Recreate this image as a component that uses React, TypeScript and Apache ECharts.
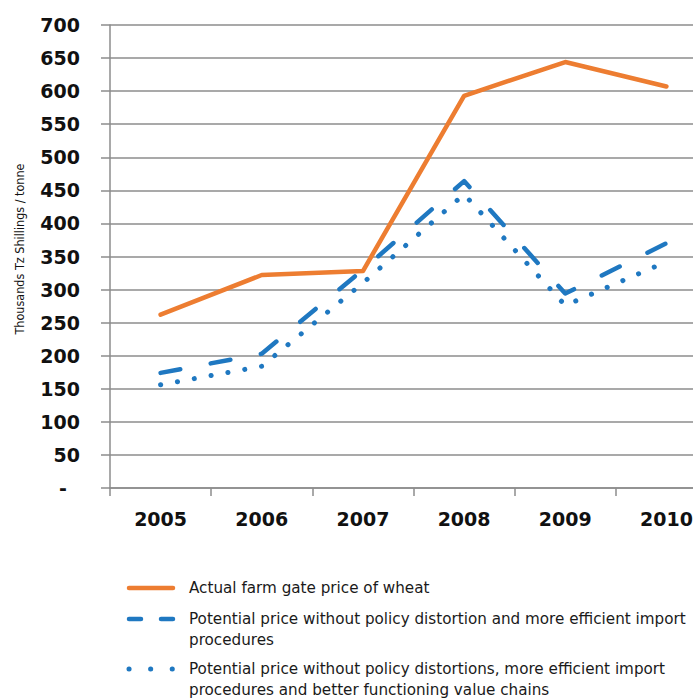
import React, { useEffect, useRef } from "react";
import * as echarts from "echarts";

const years = ["2005", "2006", "2007", "2008", "2009", "2010"];
const actualPrice = [262, 322, 328, 593, 644, 607];
const potentialPolicy = [174, 203, 330, 464, 294, 370];
const potentialValueChain = [156, 184, 310, 444, 276, 342];
const seriesNames = [
  "Actual farm gate price of wheat",
  "Potential price without policy distortion and more efficient import\nprocedures",
  "Potential price without policy distortions, more efficient import\nprocedures and better functioning value chains",
];
const yTitle = "Thousands Tz Shillings / tonne";

const ORANGE = "#ED7D31";
const BLUE = "#1F78C1";
const GRID_GRAY = "#8C8C8C";
const FONT = "'DejaVu Sans', sans-serif";

export default function App() {
  const ref = useRef<HTMLDivElement>(null);
  useEffect(() => {
    if (!ref.current) return;
    const chart = echarts.init(ref.current, undefined, { renderer: "svg" });
    const legendY = [588, 619, 669];
    const legendGraphics: any[] = [];
    const styles = [
      { stroke: ORANGE, lineWidth: 4.5, lineDash: null as any, lineCap: "round" },
      { stroke: BLUE, lineWidth: 4.5, lineDash: [12, 20], lineCap: "round" },
      { stroke: BLUE, lineWidth: 5, lineDash: [0.1, 21.5], lineCap: "round" },
    ];
    seriesNames.forEach((name, i) => {
      legendGraphics.push({
        type: "line",
        shape: { x1: 129, y1: legendY[i], x2: 173, y2: legendY[i] },
        style: styles[i],
      });
      legendGraphics.push({
        type: "text",
        x: 189,
        y: legendY[i] - 10.5,
        style: {
          text: name,
          font: `15.2px ${FONT}`,
          fill: "#1a1a1a",
          lineHeight: 21,
          verticalAlign: "top",
        },
      });
    });
    legendGraphics.push({
      type: "text",
      x: 19,
      y: 249,
      rotation: Math.PI / 2,
      style: {
        text: yTitle,
        font: `12.5px 'DejaVu Sans Condensed', 'Liberation Sans Narrow', sans-serif`,
        fill: "#111",
        align: "center",
        verticalAlign: "middle",
      },
    });

    chart.setOption({
      animation: false,
      backgroundColor: "#ffffff",
      grid: { left: 110, top: 25, right: 0, bottom: 211, containLabel: false },
      xAxis: {
        type: "category",
        data: years,
        boundaryGap: true,
        axisLine: { show: true, lineStyle: { color: GRID_GRAY, width: 1.5 } },
        axisTick: { show: true, interval: 0, length: 8, lineStyle: { color: GRID_GRAY, width: 1.5 } },
        axisLabel: {
          interval: 0,
          margin: 21,
          color: "#111",
          fontFamily: FONT,
          fontWeight: "bold",
          fontSize: 19,
        },
      },
      yAxis: {
        type: "value",
        min: 0,
        max: 700,
        interval: 50,
        axisLine: { show: true, lineStyle: { color: GRID_GRAY, width: 1.5 } },
        axisTick: { show: true, length: 9, lineStyle: { color: GRID_GRAY, width: 1.5 } },
        splitLine: { show: true, lineStyle: { color: GRID_GRAY, width: 1.5 } },
        axisLabel: {
          margin: 30,
          color: "#111",
          fontFamily: FONT,
          fontWeight: "bold",
          fontSize: 19,
          formatter: (v: number) => (v === 0 ? "{dash|-}" : String(v)),
          rich: {
            dash: {
              fontFamily: FONT,
              fontWeight: "bold",
              fontSize: 19,
              color: "#111",
              padding: [0, 13, 0, 0],
            },
          },
        },
      },
      series: [
        {
          name: seriesNames[0],
          type: "line",
          data: actualPrice,
          symbol: "none",
          lineStyle: { color: ORANGE, width: 4.5, cap: "round", join: "round" },
          z: 3,
        },
        {
          name: seriesNames[1],
          type: "line",
          data: potentialPolicy,
          symbol: "none",
          lineStyle: {
            color: BLUE,
            width: 4.5,
            type: [20, 31],
            dashOffset: 0,
            cap: "round",
            join: "round",
          },
          z: 2,
        },
        {
          name: seriesNames[2],
          type: "line",
          data: potentialValueChain,
          symbol: "none",
          lineStyle: {
            color: BLUE,
            width: 5,
            type: [0.1, 17],
            cap: "round",
            join: "round",
          },
          z: 2,
        },
      ],
      graphic: legendGraphics,
    });
    return () => chart.dispose();
  }, []);
  return (
    <div
      style={{
        position: "absolute",
        left: 0,
        top: 0,
        width: 693,
        height: 699,
        overflow: "hidden",
      }}
    >
      <div ref={ref} style={{ width: 717, height: 699 }} />
    </div>
  );
}
